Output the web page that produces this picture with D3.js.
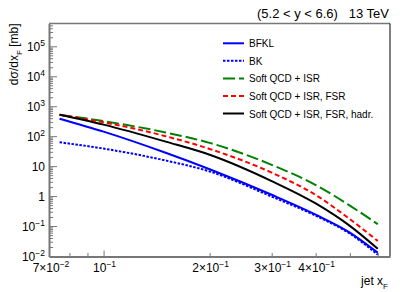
<!DOCTYPE html>
<html>
<head>
<meta charset="utf-8">
<script src="https://cdn.jsdelivr.net/npm/d3@7"></script>
<style>
  body { margin: 0; background: #fff; }
  svg { display: block; font-family: "Liberation Sans", Arial, sans-serif; }
</style>
</head>
<body>
<div id="board"></div>
<script>
// values
var xF = [0.075, 0.1, 0.15, 0.2, 0.3, 0.4, 0.5, 0.6];
var bfkl = [400, 147, 29, 8.2, 1.15, 0.25, 0.063, 0.0134];
var bk = [65, 40, 16, 6.9, 1.0, 0.23, 0.058, 0.0115];
var softIsr = [540, 331, 138, 62, 11.5, 2.43, 0.50, 0.12];
var softIsrFsr = [540, 302, 104, 39, 6.3, 1.13, 0.177, 0.033];
var softHadr = [540, 253, 68.5, 25, 3.3, 0.59, 0.105, 0.018];

var seriesNames = ['BFKL', 'BK', 'Soft QCD + ISR', 'Soft QCD + ISR, FSR', 'Soft QCD + ISR, FSR, hadr.'];
var xTickVals = [0.07, 0.1, 0.2, 0.3, 0.4];
var xTickMant = ['7', '', '2', '3', '4'];
var yTickExp = [-2, -1, 0, 1, 2, 3, 4, 5];

var W = 407, H = 292;
var padL = 49, padR = 390, padT = 23.5, padB = 256.5;

var svg = d3.select('#board').append('svg')
    .attr('width', W).attr('height', H);

var x = d3.scaleLog().domain([0.07, 0.65]).range([padL, padR]);
var y = d3.scaleLog().domain([0.01, 6e5]).range([padB, padT]);

var styles = [
    {color: '#0000ff', dash: null},
    {color: '#0000ff', dash: '2.5,1.5'},
    {color: '#008000', dash: '12,4'},
    {color: '#ff0000', dash: '5,3'},
    {color: '#000000', dash: null}
];
var allSeries = [bfkl, bk, softIsr, softIsrFsr, softHadr];

// frame
svg.append('line').attr('x1', padL).attr('x2', padR).attr('y1', padT).attr('y2', padT)
    .style('stroke', '#777').style('stroke-width', 1.5);
svg.append('line').attr('x1', padR).attr('x2', padR).attr('y1', padT).attr('y2', padB)
    .style('stroke', '#000').style('stroke-width', 1);

// curves
var line = d3.line()
    .x(function(d){ return x(d[0]); })
    .y(function(d){ return y(d[1]); })
    .curve(d3.curveMonotoneX);

allSeries.forEach(function(s, i){
    var pts = xF.map(function(v, j){ return [v, s[j]]; });
    svg.append('path')
        .attr('d', line(pts))
        .style('fill', 'none')
        .style('stroke', styles[i].color)
        .style('stroke-width', 2)
        .style('stroke-dasharray', styles[i].dash);
});

// x axis
var xAxis = d3.axisBottom(x)
    .tickValues([0.07, 0.08, 0.09, 0.1, 0.2, 0.3, 0.4, 0.5, 0.6])
    .tickSizeInner(0).tickSizeOuter(0).tickFormat('');
var gx = svg.append('g').attr('transform', 'translate(0,' + padB + ')').call(xAxis);
gx.select('.domain').style('stroke', '#777').style('stroke-width', 2);
gx.selectAll('.tick line')
    .attr('y2', function(d){ return d === 0.1 ? -6 : -3.5; })
    .style('stroke', '#777').style('stroke-width', 1);

xTickVals.forEach(function(v, i){
    var t = svg.append('text')
        .attr('x', x(v) + (i === 0 ? 2 : 1))
        .attr('y', 272)
        .attr('text-anchor', 'middle')
        .style('font-size', '12px');
    var m = xTickMant[i];
    t.append('tspan').text(m ? m + '\u00d710' : '10');
    t.append('tspan').attr('dy', -5).style('font-size', '8.5px')
        .text(v < 0.1 ? '\u22122' : '\u22121');
});

svg.append('text').attr('x', 388).attr('y', 285).attr('text-anchor', 'end')
    .style('font-size', '12px').text('jet x')
  .append('tspan').attr('dy', 4).style('font-size', '8px').text('F');

// y axis
var yMinor = [];
yTickExp.forEach(function(e){
    for (var k = 2; k <= 9; k++) {
        var v = k * Math.pow(10, e);
        if (v <= 6e5) yMinor.push(v);
    }
});
var gy = svg.append('g').attr('transform', 'translate(' + padL + ',0)')
    .call(d3.axisLeft(y).tickValues([]).tickSizeOuter(0));
gy.select('.domain').style('stroke', '#777').style('stroke-width', 2);

svg.append('g').selectAll('line')
    .data(yTickExp.map(function(e){ return Math.pow(10, e); }))
    .join('line')
    .attr('x1', padL).attr('x2', padL + 8)
    .attr('y1', function(d){ return y(d); }).attr('y2', function(d){ return y(d); })
    .style('stroke', '#777').style('stroke-width', 1);
svg.append('g').selectAll('line')
    .data(yMinor)
    .join('line')
    .attr('x1', padL).attr('x2', padL + 4)
    .attr('y1', function(d){ return y(d); }).attr('y2', function(d){ return y(d); })
    .style('stroke', '#777').style('stroke-width', 1);

yTickExp.forEach(function(e){
    var t = svg.append('text')
        .attr('x', 45)
        .attr('y', y(Math.pow(10, e)) + 4.5)
        .attr('text-anchor', 'end')
        .style('font-size', '12px');
    if (e === 0) { t.text('1'); return; }
    if (e === 1) { t.text('10'); return; }
    t.append('tspan').text('10');
    t.append('tspan').attr('dy', -5).style('font-size', '8.5px')
        .text(e < 0 ? '\u2212' + (-e) : String(e));
});

var yl = svg.append('text')
    .attr('transform', 'translate(18,' + padT + ') rotate(-90)')
    .attr('text-anchor', 'end')
    .style('font-size', '12px');
yl.append('tspan').text('d\u03c3/dx');
yl.append('tspan').attr('dy', 4).style('font-size', '8px').text('F');
yl.append('tspan').attr('dy', -4).text(' [mb]');

// title
svg.append('text').attr('x', 389).attr('y', 18).attr('text-anchor', 'end')
    .style('font-size', '13px').style('white-space', 'pre')
    .text('(5.2 < y < 6.6)   13 TeV');

// legend
var legY = d3.scaleLinear().domain([0, 4]).range([43.3, 113.5]);
seriesNames.forEach(function(name, i){
    var yy = legY(i);
    svg.append('line').attr('x1', 223).attr('x2', 244).attr('y1', yy).attr('y2', yy)
        .style('stroke', styles[i].color).style('stroke-width', 2)
        .style('stroke-dasharray', styles[i].dash);
    svg.append('text').attr('x', 249).attr('y', yy + 4)
        .style('font-size', '10px').text(name);
});
</script>
</body>
</html>
